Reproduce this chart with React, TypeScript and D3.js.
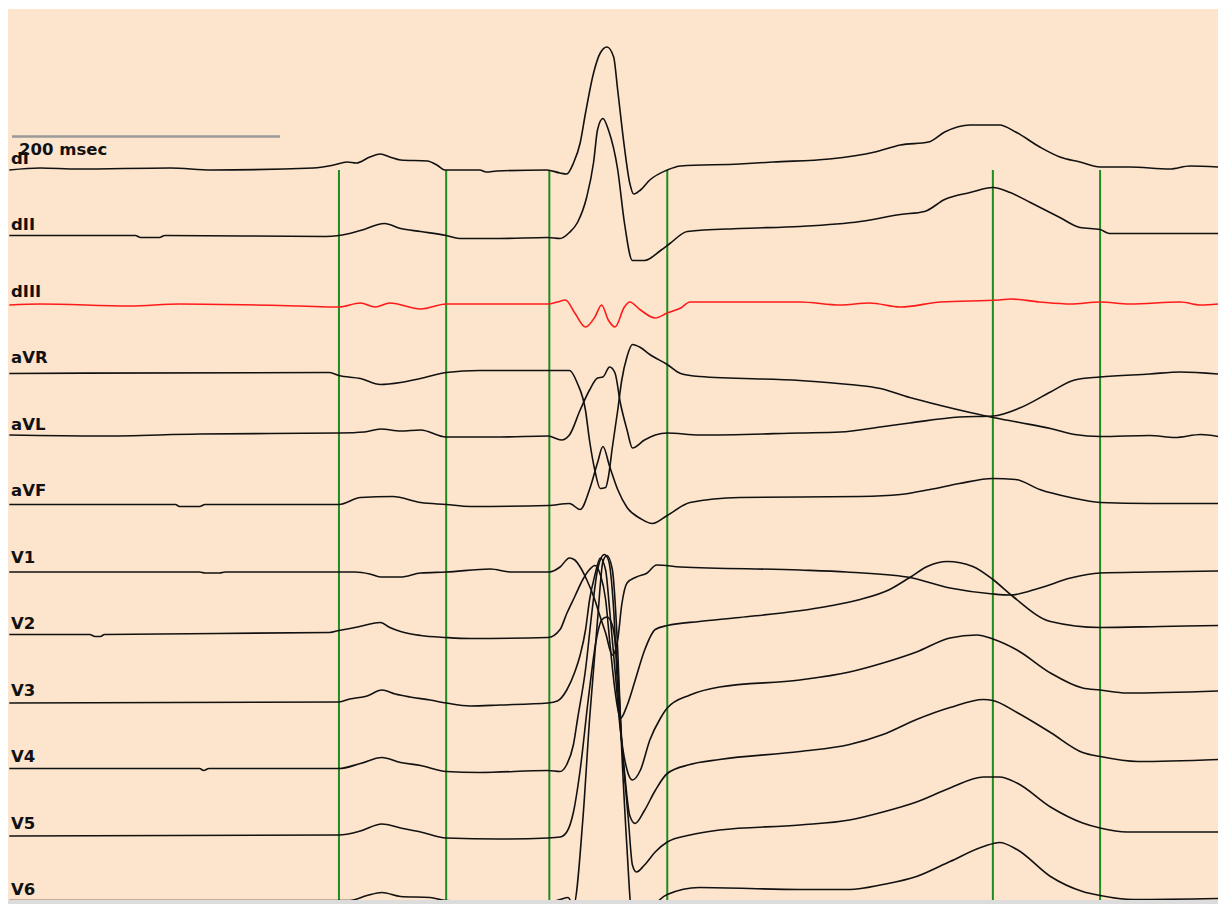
import React from "react";
import * as d3 from "d3";

type Pt = [number, number]; // [time ms, amplitude mV]

const LEAD_NAMES = ["dI", "dII", "dIII", "aVR", "aVL", "aVF", "V1", "V2", "V3", "V4", "V5", "V6"];
const MARKERS_MS = [244, 324, 401, 489, 732, 812];
const SCALE_BAR_MS = 200;
const SCALE_LABEL = "200 msec";

const dI: Pt[] = [[-2,-0.01],[21,0.01],[49,0],[118,0.01],[149,-0.01],[225,0.01],[240,0.04],[250,0.07],[257,0.06],[267,0.12],[275,0.15],[282,0.12],[290,0.09],[310,0.08],[317,0.04],[323,-0.01],[349,-0.01],[354,-0.03],[362,-0.02],[399,-0.01],[409,-0.04],[414,-0.05],[419,0.06],[424,0.26],[428,0.56],[434,0.96],[439,1.16],[444,1.22],[449,1.12],[452,0.79],[457,0.22],[461,-0.14],[464,-0.25],[469,-0.21],[476,-0.11],[489,-0.01],[499,0.03],[543,0.05],[568,0.07],[610,0.1],[644,0.17],[663,0.24],[684,0.27],[696,0.37],[715,0.44],[737,0.44],[749,0.37],[767,0.22],[782,0.12],[797,0.07],[812,0.02],[834,0.02],[864,0],[879,0.03],[900,0.02]];
const dII: Pt[] = [[-2,0],[92,0],[96,-0.02],[110,-0.02],[114,0],[234,-0.01],[244,0],[260,0.05],[278,0.12],[290,0.07],[305,0.04],[324,0],[334,-0.03],[364,-0.03],[400,-0.02],[409,-0.03],[416,0.03],[422,0.13],[429,0.39],[434,0.73],[437,1.06],[441,1.17],[445,1.06],[452,0.66],[457,0.13],[463,-0.25],[472,-0.25],[484,-0.15],[491,-0.08],[504,0.04],[543,0.07],[588,0.09],[633,0.14],[663,0.21],[681,0.24],[696,0.36],[715,0.43],[732,0.48],[745,0.43],[760,0.33],[782,0.18],[797,0.08],[812,0.06],[819,0.02],[900,0.02]];
const dIII: Pt[] = [[-2,-0.03],[21,-0.02],[88,-0.04],[125,-0.02],[215,-0.04],[244,-0.05],[260,-0.01],[271,-0.05],[282,-0.01],[305,-0.07],[324,-0.02],[400,-0.02],[407,0],[413,0.02],[420,-0.11],[428,-0.25],[435,-0.15],[440,-0.03],[445,-0.18],[450,-0.25],[457,-0.05],[461,0],[469,-0.08],[480,-0.16],[489,-0.11],[499,-0.06],[506,0],[588,0],[618,-0.03],[640,-0.01],[663,-0.05],[693,0],[737,0.02],[745,0.03],[767,0],[790,-0.02],[812,0],[834,-0.02],[872,0],[887,-0.03],[900,-0.02]];
const aVR: Pt[] = [[-2,-0.05],[237,-0.04],[244,-0.07],[260,-0.1],[275,-0.16],[290,-0.14],[305,-0.1],[324,-0.04],[349,-0.02],[416,-0.02],[422,-0.15],[428,-0.42],[431,-0.72],[435,-1.02],[439,-1.2],[443,-1.19],[445,-1.09],[448,-0.79],[452,-0.42],[455,-0.12],[459,0.12],[463,0.24],[469,0.21],[476,0.14],[489,0.04],[499,-0.05],[513,-0.08],[588,-0.12],[625,-0.16],[648,-0.2],[670,-0.29],[693,-0.37],[715,-0.44],[732,-0.49],[752,-0.54],[775,-0.6],[793,-0.66],[812,-0.68],[849,-0.67],[868,-0.69],[887,-0.66],[900,-0.68]];
const aVL: Pt[] = [[-2,0],[66,-0.01],[140,0.01],[244,0.02],[263,0.03],[275,0.06],[290,0.04],[305,0.05],[324,-0.02],[364,-0.02],[400,-0.01],[410,-0.05],[416,0],[424,0.25],[431,0.45],[437,0.57],[441,0.58],[446,0.68],[450,0.62],[454,0.32],[459,0.05],[463,-0.13],[472,-0.05],[480,0],[489,0.02],[513,0],[588,0.02],[618,0.03],[648,0.08],[670,0.12],[707,0.18],[732,0.19],[752,0.27],[775,0.43],[793,0.55],[812,0.58],[849,0.61],[872,0.63],[900,0.61]];
const aVF: Pt[] = [[-2,-0.03],[122,-0.03],[125,-0.05],[140,-0.05],[144,-0.03],[244,-0.03],[260,0.04],[284,0.05],[305,-0.01],[324,-0.03],[342,-0.05],[400,-0.04],[416,-0.02],[424,-0.08],[431,0.12],[437,0.39],[441,0.55],[446,0.35],[452,0.12],[459,-0.06],[469,-0.17],[478,-0.22],[489,-0.14],[506,-0.01],[543,0.04],[633,0.05],[663,0.07],[685,0.12],[707,0.18],[732,0.23],[749,0.22],[767,0.12],[790,0.04],[812,-0.01],[849,-0.02],[900,-0.02]];
const V1: Pt[] = [[-2,-0.04],[140,-0.04],[144,-0.05],[155,-0.05],[159,-0.04],[256,-0.04],[267,-0.06],[275,-0.09],[290,-0.09],[305,-0.05],[324,-0.04],[357,-0.01],[372,-0.04],[401,-0.04],[409,0.01],[416,0.1],[420,0.08],[424,0.01],[429,-0.12],[435,-0.32],[439,-0.49],[443,-0.65],[448,-0.87],[452,-0.72],[455,-0.37],[459,-0.15],[466,-0.09],[474,-0.05],[481,0.03],[499,0.01],[588,-0.02],[623,-0.04],[668,-0.09],[700,-0.2],[732,-0.26],[745,-0.27],[767,-0.2],[790,-0.1],[812,-0.05],[849,-0.04],[900,-0.03]];
const V2: Pt[] = [[-2,0],[58,0],[62,-0.02],[66,-0.02],[69,0],[237,0.02],[244,0.04],[256,0.07],[275,0.12],[282,0.07],[290,0.03],[305,-0.01],[324,-0.03],[342,-0.04],[400,-0.03],[409,0.05],[414,0.21],[420,0.38],[426,0.55],[431,0.65],[435,0.69],[439,0.6],[443,0.35],[446,-0.06],[450,-0.56],[454,-0.84],[459,-0.71],[465,-0.46],[472,-0.16],[480,0.05],[489,0.09],[513,0.13],[543,0.17],[608,0.28],[633,0.35],[655,0.45],[670,0.57],[683,0.68],[698,0.73],[717,0.68],[732,0.55],[747,0.38],[775,0.13],[812,0.07],[857,0.08],[900,0.09]];
const V3: Pt[] = [[-2,-0.02],[244,-0.01],[252,0.02],[265,0.05],[276,0.11],[286,0.07],[297,0.04],[312,0.01],[324,-0.02],[342,-0.05],[364,-0.04],[400,-0.02],[407,0],[414,0.11],[420,0.29],[424,0.46],[428,0.71],[431,1.01],[435,1.26],[439,1.43],[443,1.31],[446,0.91],[450,0.31],[454,-0.29],[459,-0.69],[463,-0.79],[469,-0.69],[476,-0.39],[484,-0.17],[489,-0.07],[506,0.06],[528,0.14],[588,0.21],[625,0.29],[650,0.38],[675,0.49],[700,0.63],[720,0.66],[732,0.62],[750,0.51],[775,0.28],[799,0.13],[812,0.11],[832,0.08],[900,0.1]];
const V4: Pt[] = [[-2,-0.01],[140,-0.01],[143,-0.03],[147,-0.01],[244,-0.01],[260,0.04],[276,0.1],[290,0.05],[305,0.02],[324,-0.04],[349,-0.05],[400,-0.03],[409,-0.04],[414,0.03],[419,0.23],[422,0.48],[428,0.98],[433,1.58],[437,1.98],[442,2.13],[445,2.08],[449,1.58],[452,0.78],[457,-0.03],[461,-0.48],[465,-0.56],[472,-0.43],[480,-0.23],[489,-0.06],[506,0.03],[528,0.08],[588,0.16],[625,0.23],[650,0.33],[675,0.48],[700,0.6],[725,0.68],[732,0.67],[750,0.55],[775,0.35],[799,0.15],[812,0.11],[840,0.06],[900,0.08]];
const V5: Pt[] = [[-2,-0.02],[244,-0.01],[260,0.03],[276,0.1],[290,0.06],[305,0.02],[324,-0.04],[364,-0.05],[400,-0.04],[409,-0.03],[414,0.02],[419,0.22],[424,0.64],[430,1.34],[436,1.94],[440,2.14],[444,2.17],[448,2.09],[452,1.64],[455,0.94],[460,0.14],[463,-0.31],[466,-0.38],[472,-0.31],[480,-0.18],[489,-0.08],[506,-0.01],[528,0.04],[588,0.09],[625,0.14],[650,0.22],[675,0.32],[700,0.46],[725,0.57],[737,0.57],[750,0.51],[775,0.27],[799,0.11],[812,0.06],[832,0.02],[900,0.02]];
const V6: Pt[] = [[-2,0],[244,0],[252,0],[265,0.05],[276,0.08],[290,0.04],[312,0.03],[324,0],[400,-0.02],[409,0.01],[415,0.03],[419,-0.05],[426,0.81],[431,1.81],[437,2.81],[441,3.39],[444,3.45],[448,3.31],[452,2.51],[455,1.51],[459,0.51],[462,-0.1],[466,-0.3],[476,-0.1],[489,0.06],[513,0.13],[588,0.11],[625,0.11],[650,0.16],[675,0.24],[700,0.39],[725,0.54],[737,0.58],[750,0.51],[775,0.24],[799,0.09],[812,0.05],[837,0.01],[900,0.02]];

const LEADS: Pt[][] = [dI, dII, dIII, aVR, aVL, aVF, V1, V2, V3, V4, V5, V6];
const LEAD_COLORS = ["#111", "#111", "#ff1a1a", "#111", "#111", "#111", "#111", "#111", "#111", "#111", "#111", "#111"];

export default function App() {
  const W = 1218;
  const H = 904;
  const panel = { x: 8, y: 9, w: 1210, h: 891 };
  const x = d3.scaleLinear().domain([0, 900]).range([12, 1218]);
  const row = d3.scaleLinear().domain([0, LEAD_NAMES.length - 1]).range([169, 900.5]);
  const pxPerMv = 100;

  const lineFor = (i: number) => {
    const base = row(i);
    const y = d3.scaleLinear().domain([0, 1]).range([base, base - pxPerMv]);
    return d3
      .line<Pt>()
      .x((d) => x(d[0]))
      .y((d) => y(d[1]))
      .curve(d3.curveMonotoneX);
  };

  const font = "'DejaVu Sans', Verdana, sans-serif";

  return (
    <svg
      width={W}
      height={H}
      style={{ position: "absolute", left: 0, top: 0, background: "#fff" }}
    >
      <defs>
        <clipPath id="panelClip">
          <rect x={panel.x} y={panel.y} width={panel.w} height={panel.h} />
        </clipPath>
      </defs>
      <rect x={panel.x} y={panel.y} width={panel.w} height={panel.h} fill="#fde4cc" />
      <rect x={panel.x} y={panel.y + panel.h} width={panel.w} height={H - panel.y - panel.h} fill="#dcdcdc" />
      <g clipPath="url(#panelClip)">
        {MARKERS_MS.map((m, i) => (
          <line
            key={"m" + i}
            x1={x(m)}
            x2={x(m)}
            y1={row(0) + 1}
            y2={panel.y + panel.h}
            stroke="#1e8c1e"
            strokeWidth={2}
          />
        ))}
        {LEADS.map((pts, i) => (
          <path
            key={"l" + i}
            d={lineFor(i)(pts) || ""}
            fill="none"
            stroke={LEAD_COLORS[i]}
            strokeWidth={1.6}
            strokeLinejoin="round"
          />
        ))}
        <line
          x1={x(0)}
          x2={x(SCALE_BAR_MS)}
          y1={136.5}
          y2={136.5}
          stroke="#9a9a9a"
          strokeWidth={2.5}
        />
        {LEAD_NAMES.map((n, i) => (
          <text
            key={"t" + i}
            x={11}
            y={row(i) - 5.5}
            fontFamily={font}
            fontWeight="bold"
            fontSize={16.5}
            fill="#111"
          >
            {n}
          </text>
        ))}
        <text x={19} y={155} fontFamily={font} fontWeight="bold" fontSize={16.5} fill="#111">
          {SCALE_LABEL}
        </text>
      </g>
    </svg>
  );
}
